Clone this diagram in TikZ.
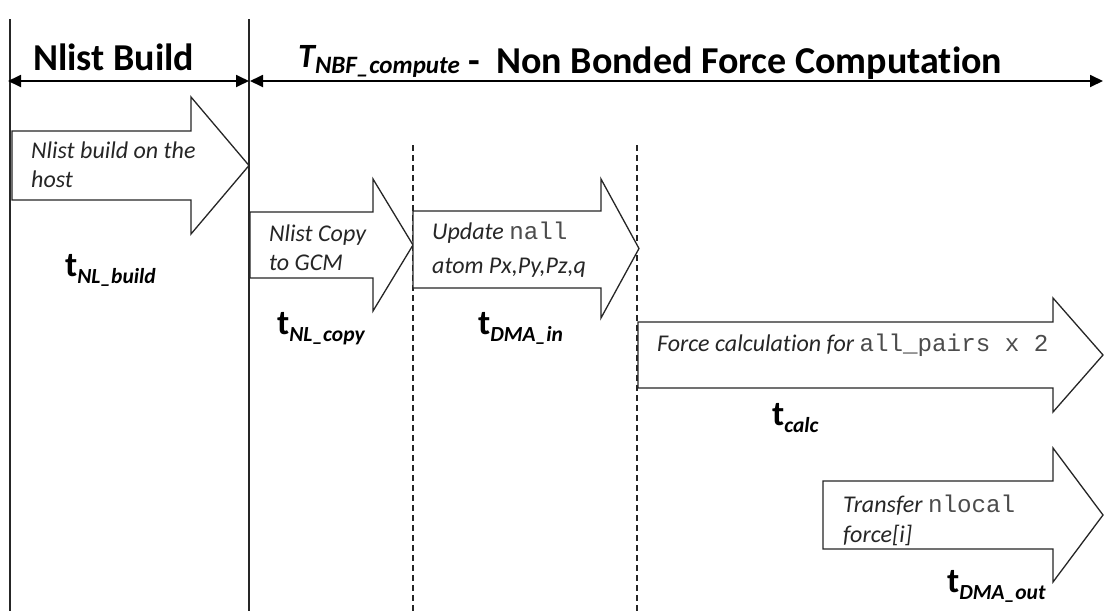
\documentclass[tikz,border=0pt]{standalone}
\usepackage{fontspec}
\setmainfont[Ligatures=NoCommon]{Carlito}
\setmonofont{Liberation Mono}
\usetikzlibrary{arrows.meta}
\newcommand\barrow[8]{%
  \draw[blockarrow] (#1,#2) -- (#4,#2) -- (#4,#5) -- (#7,{(#5+#6)/2}) coordinate (#8) -- (#4,#6) -- (#4,#3) -- (#1,#3) -- cycle;}
\begin{document}
\begin{tikzpicture}[x=1pt,y=-1pt,
  blockarrow/.style={draw=black!85, line width=1.3pt, fill=white, line join=miter},
  vline/.style={draw=black!85, line width=1.2pt},
  dline/.style={draw=black!85, line width=1.1pt, dash pattern=on 6pt off 4pt},
  span/.style={draw=black, line width=1.8pt, {Triangle[length=13pt,width=12pt]}-{Triangle[length=13pt,width=12pt]}},
  intext/.style={font=\fontsize{24}{28}\selectfont\itshape, text=black!85, inner sep=0pt, anchor=base west},
  titletext/.style={font=\fontsize{38}{44}\selectfont\bfseries, inner sep=0pt, anchor=base west},
  tlabel/.style={inner sep=0pt, anchor=base west}]
\newcommand\mtt[1]{{\ttfamily\fontsize{24.2}{28}\selectfont\upshape\color{black!70}#1}}
\newcommand\tsub[1]{{\fontsize{35}{40}\selectfont\bfseries t}\raisebox{-7pt}{\fontsize{21.5}{24}\selectfont\bfseries\itshape #1}}
\useasboundingbox (0,0) rectangle (1104,611);
\fill[white] (0,0) rectangle (1104,611);
% vertical lines
\coordinate (v1t) at (10,19); \coordinate (v1b) at (10,611);
\coordinate (v2t) at (249,19); \coordinate (v2b) at (249,611);
\coordinate (d1t) at (413,145); \coordinate (d1b) at (413,611);
\coordinate (d2t) at (637,145); \coordinate (d2b) at (637,611);
\draw[vline] (v1t) -- (v1b);
\draw[vline] (v2t) -- (v2b);
\draw[dline] (d1t) -- (d1b);
\draw[dline] (d2t) -- (d2b);
% spans
\coordinate (s1a) at (8,81); \coordinate (s1b) at (249,81);
\coordinate (s2a) at (250,81); \coordinate (s2b) at (1103,81);
\draw[span] (s1a) -- (s1b);
\draw[span] (s2a) -- (s2b);
\node[titletext] (title1) at (33,70) {Nlist Build};
\node[titletext] (title2) at (298,73) {\raisebox{6pt}{\fontsize{34}{40}\selectfont\bfseries\itshape T}{\fontsize{25}{30}\selectfont\bfseries\itshape NBF\_compute}};
\node[titletext] (title2b) at (468,73) {-};
\node[titletext] (title2c) at (496,73) {Non Bonded Force Computation};
% block arrows
\barrow{12}{131}{200}{191}{97}{234}{249}{a1}
\barrow{250}{212}{278}{373}{179}{311}{413}{a2}
\barrow{413}{211}{288}{601}{179}{318}{639}{a3}
\barrow{638}{322}{388}{1053}{298}{412}{1103}{a4}
\barrow{823}{481}{549}{1053}{448}{582}{1103}{a5}
% texts
\node[intext] (t1a) at (31,158) {Nlist build on the};
\node[intext] (t1b) at (31,187) {host};
\node[intext] (t2a) at (269,241) {Nlist Copy};
\node[intext] (t2b) at (269,270) {to GCM};
\node[intext] (t3a) at (432,239) {Update \mtt{nall}};
\node[intext] (t3b) at (432,273) {atom Px,Py,Pz,q};
\node[intext] (t4a) at (657,351) {Force calculation for \mtt{all\_pairs x 2}};
\node[intext] (t5a) at (843,512) {Transfer \mtt{nlocal}};
\node[intext] (t5b) at (843,542) {force[i]};
% time labels
\node[tlabel] (l1) at (65,276) {\tsub{NL\_build}};
\node[tlabel] (l2) at (277,334) {\tsub{NL\_copy}};
\node[tlabel] (l3) at (478,334) {\tsub{DMA\_in}};
\node[tlabel] (l4) at (772,425) {\tsub{calc}};
\node[tlabel] (l5) at (947,592) {\tsub{DMA\_out}};
\end{tikzpicture}
\end{document}
